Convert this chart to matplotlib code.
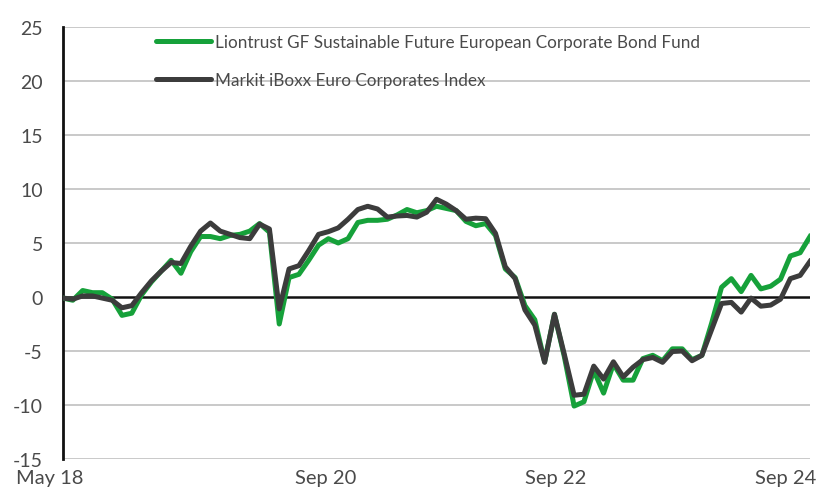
import matplotlib
matplotlib.use("Agg")
import matplotlib.pyplot as plt
import matplotlib.transforms as mtransforms

# ---- data (monthly, May 2018 -> Sep 2024), cumulative % ----
fund_name = "Liontrust GF Sustainable Future European Corporate Bond Fund"
index_name = "Markit iBoxx Euro Corporates Index"

fund = [-0.1, -0.3, 0.6, 0.4, 0.4, -0.2, -1.7, -1.5, 0.2, 1.4,
        2.4, 3.4, 2.2, 4.2, 5.6, 5.6, 5.4, 5.7, 5.8, 6.1,
        6.8, 6.0, -2.5, 1.8, 2.1, 3.4, 4.8, 5.4, 5.0, 5.4,
        6.9, 7.1, 7.1, 7.2, 7.6, 8.1, 7.8, 8.0, 8.4, 8.2,
        8.0, 7.0, 6.6, 6.8, 5.7, 2.6, 1.8, -0.8, -2.1, -6.0,
        -1.6, -5.5, -10.1, -9.7, -6.8, -8.9, -6.2, -7.7, -7.7, -5.7,
        -5.4, -5.9, -4.8, -4.8, -5.8, -5.4, -2.4, 0.9, 1.7, 0.5,
        2.0, 0.75, 1.0, 1.65, 3.8, 4.1, 5.6]

index = [-0.1, -0.2, 0.1, 0.1, -0.1, -0.3, -1.0, -0.8, 0.4, 1.5,
         2.4, 3.2, 3.1, 4.7, 6.1, 6.85, 6.1, 5.8, 5.5, 5.4,
         6.75, 6.3, -1.1, 2.6, 2.9, 4.3, 5.8, 6.05, 6.4, 7.2,
         8.1, 8.4, 8.15, 7.4, 7.5, 7.55, 7.4, 7.85, 9.05, 8.6,
         8.0, 7.2, 7.3, 7.25, 5.9, 2.8, 1.7, -1.2, -2.6, -6.05,
         -1.6, -5.3, -9.1, -9.0, -6.4, -7.6, -6.0, -7.4, -6.5, -5.8,
         -5.6, -6.05, -5.05, -5.0, -5.9, -5.4, -3.0, -0.6, -0.5, -1.4,
         -0.1, -0.85, -0.75, -0.2, 1.7, 2.0, 3.3]

x_labels = ["May 18", "Sep 20", "Sep 22", "Sep 24"]
y_ticks = [-15, -10, -5, 0, 5, 10, 15, 20, 25]

# ---- styling ----
GREEN = "#16a13a"
DARK = "#3c3c3c"
TEXT = "#4a4a4a"
plt.rcParams["font.family"] = ["Lato", "DejaVu Sans"]

W, H = 819, 489
fig = plt.figure(figsize=(W / 100, H / 100), dpi=100)
ax = fig.add_axes([63 / W, 1 - 460 / H, (810 - 63) / W, (460 - 28) / H])

months = list(range(len(fund)))
ax.plot(months, fund, color=GREEN, lw=3.6, solid_joinstyle="round",
        label=fund_name, zorder=3)
ax.plot(months, index, color=DARK, lw=3.6, solid_joinstyle="round",
        label=index_name, zorder=4)

ax.set_xlim(0, len(fund) - 1)
ax.set_ylim(-15, 25)
ax.set_yticks(y_ticks)
ax.set_yticklabels([str(v) for v in y_ticks])
ax.tick_params(axis="y", length=0, pad=14.5, labelsize=14, labelcolor=TEXT)
ax.set_xticks([])

for v in y_ticks:
    if v != 0:
        ax.axhline(v, color="#c9c9c9", lw=1.4, zorder=1)
ax.axhline(0, color="#111111", lw=1.8, zorder=2)

for s in ["top", "right", "bottom"]:
    ax.spines[s].set_visible(False)
ax.spines["left"].set_color("#111111")
ax.spines["left"].set_linewidth(2.0)

# x labels (category-style date labels)
label_pos = [-1.3, 26.75, 50.15, 73.55]
trans = mtransforms.blended_transform_factory(ax.transData, ax.transAxes)
for p, t in zip(label_pos, x_labels):
    ax.text(p, -0.024, t, transform=trans, ha="center", va="top",
            fontsize=14.5, color=TEXT, clip_on=False)

leg = ax.legend(loc="upper left", bbox_to_anchor=(156 / W, 1 - 35 / H),
                bbox_transform=fig.transFigure, frameon=False,
                fontsize=12.3, handlelength=3.2, handletextpad=0.23,
                labelspacing=1.27, borderaxespad=0, borderpad=0)
for t in leg.get_texts():
    t.set_color(TEXT)
for l in leg.get_lines():
    l.set_solid_capstyle("round")

fig.savefig("out.png", dpi=100)
